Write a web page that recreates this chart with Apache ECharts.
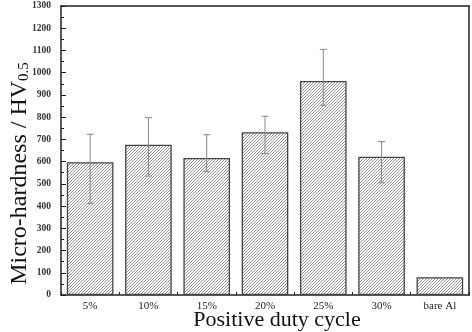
<!DOCTYPE html>
<html><head><meta charset="utf-8">
<script src="https://cdn.jsdelivr.net/npm/echarts@6/dist/echarts.min.js"></script>
<style>html,body{margin:0;padding:0;background:#fff}#c{width:472px;height:332px}</style>
</head><body><div id="c"></div>
<script>
const categories = ['5%','10%','15%','20%','25%','30%','bare Al'];
const hardness = [597, 676, 616, 732, 963, 622, 80];
const errLow = [412, 535, 555, 636, 853, 505, 80];
const errHigh = [723, 798, 721, 804, 1105, 690, 80];

function hatch(){
  const n = 3;
  const c = document.createElement('canvas');
  c.width = n; c.height = n;
  const g = c.getContext('2d');
  g.fillStyle = '#fff'; g.fillRect(0,0,n,n);
  g.strokeStyle = '#777'; g.lineWidth = 0.8;
  g.beginPath();
  g.moveTo(0,n); g.lineTo(n,0);
  g.moveTo(-1,1); g.lineTo(1,-1);
  g.moveTo(n-1,n+1); g.lineTo(n+1,n-1);
  g.stroke();
  return c;
}
const font = 'Liberation Serif';
const chart = echarts.init(document.getElementById('c'));
const errData = categories.map((c,i)=>[i, errLow[i], errHigh[i]]);
chart.setOption({
  animation:false,
  grid:{left:61,right:3,top:6,bottom:37,outerBoundsMode:'none',containLabel:false},
  xAxis:[{
    type:'category', data:categories,
    axisLine:{lineStyle:{color:'#222',width:1.5}},
    axisTick:{show:true,inside:true,alignWithLabel:true,length:4,lineStyle:{color:'#222'}},
    axisLabel:{fontFamily:font,fontSize:11,color:'#222',margin:6},
    name:'Positive duty cycle', nameLocation:'middle', nameGap:14, nameMoveOverlap:false,
    nameTextStyle:{fontFamily:font,fontSize:22,color:'#111',padding:[0,0,0,24]}
  },{
    type:'category', data:categories, position:'bottom',
    axisLine:{show:false}, axisLabel:{show:false},
    axisTick:{show:true,inside:true,length:3,lineStyle:{color:'#222'}}
  },{
    type:'category', data:categories, position:'top',
    axisLine:{show:true,lineStyle:{color:'#222',width:1.5}}, axisLabel:{show:false},axisTick:{show:false}
  }],
  yAxis:[{
    type:'value', min:0, max:1300, interval:100,
    axisLine:{show:true,lineStyle:{color:'#222',width:1.5}},
    axisTick:{show:true,inside:true,length:5,lineStyle:{color:'#222'}},
    minorTick:{show:true,splitNumber:2,length:3,lineStyle:{color:'#222'}},
    splitLine:{show:false},
    axisLabel:{fontFamily:font,fontSize:9.5,fontWeight:'bold',color:'#333',margin:10,formatter:v=>String(v)},
    name:'{a|Micro-hardness / HV}{b|0.5}', nameLocation:'middle', nameGap:29, nameMoveOverlap:false,
    nameTextStyle:{padding:[0,46,0,0],rich:{a:{fontFamily:font,fontSize:24,color:'#111',verticalAlign:'bottom',lineHeight:28},
                        b:{fontFamily:font,fontSize:15,color:'#111',verticalAlign:'bottom',lineHeight:20}}}
  },{
    type:'value', min:0, max:1300, position:'right',
    axisLine:{show:true,lineStyle:{color:'#222',width:1.5}},
    axisTick:{show:false}, axisLabel:{show:false}, splitLine:{show:false}
  }],
  series:[{
    type:'bar', data:hardness, barCategoryGap:'20%',
    itemStyle:{color:{image:hatch(),repeat:'repeat'},borderColor:'#444',borderWidth:1.3}
  },{
    type:'custom', data:errData, z:5,
    renderItem:function(params,api){
      const x = api.coord([api.value(0),0])[0];
      const lo = api.coord([api.value(0),api.value(1)])[1];
      const hi = api.coord([api.value(0),api.value(2)])[1];
      if (api.value(1)===api.value(2)) return null;
      const s = {stroke:'#888',lineWidth:1};
      return {type:'group',children:[
        {type:'line',shape:{x1:x,y1:lo,x2:x,y2:hi},style:s},
        {type:'line',shape:{x1:x-3.5,y1:lo,x2:x+3.5,y2:lo},style:s},
        {type:'line',shape:{x1:x-3.5,y1:hi,x2:x+3.5,y2:hi},style:s}
      ]};
    }
  }]
});
</script></body></html>
